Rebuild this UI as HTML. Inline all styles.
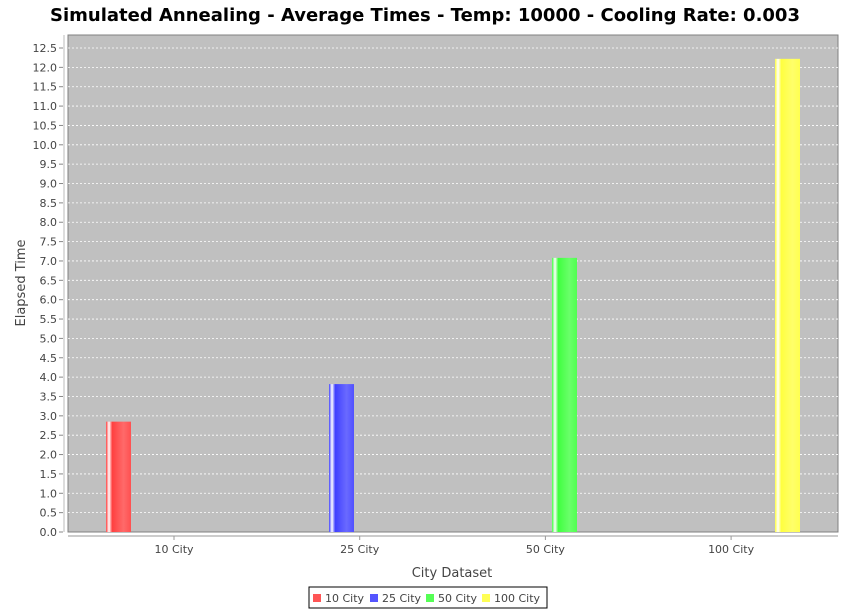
<!DOCTYPE html>
<html><head><meta charset="utf-8"><style>
body{margin:0;background:#fff}
svg text{font-family:"DejaVu Sans","Liberation Sans",sans-serif}
</style></head><body>
<svg id="chart" width="850" height="610" xmlns="http://www.w3.org/2000/svg">
<defs>
<linearGradient id="gr" x1="0" x2="1"><stop offset="0" stop-color="#ff4040"/><stop offset="0.12" stop-color="#ffffff"/><stop offset="0.25" stop-color="#ff4040"/><stop offset="0.7" stop-color="#ff6a6a"/><stop offset="1" stop-color="#ff5050"/></linearGradient>
<linearGradient id="gb" x1="0" x2="1"><stop offset="0" stop-color="#4040ff"/><stop offset="0.12" stop-color="#ffffff"/><stop offset="0.25" stop-color="#4040ff"/><stop offset="0.7" stop-color="#6a6aff"/><stop offset="1" stop-color="#5050ff"/></linearGradient>
<linearGradient id="gg" x1="0" x2="1"><stop offset="0" stop-color="#40ff40"/><stop offset="0.12" stop-color="#ffffff"/><stop offset="0.25" stop-color="#40ff40"/><stop offset="0.7" stop-color="#6aff6a"/><stop offset="1" stop-color="#50ff50"/></linearGradient>
<linearGradient id="gy" x1="0" x2="1"><stop offset="0" stop-color="#ffff40"/><stop offset="0.12" stop-color="#ffffff"/><stop offset="0.25" stop-color="#ffff40"/><stop offset="0.7" stop-color="#ffff6a"/><stop offset="1" stop-color="#ffff50"/></linearGradient>
</defs>
<text x="425" y="21" text-anchor="middle" font-size="18" font-weight="bold">Simulated Annealing - Average Times - Temp: 10000 - Cooling Rate: 0.003</text>
<rect x="68" y="35" width="770" height="497" fill="#c0c0c0" stroke="#808080"/>
<g id="grid"></g><g id="yaxis"></g><g id="bars"></g><g id="xaxis"></g>
<line x1="68" y1="536" x2="838" y2="536" stroke="#999"/>
<line x1="64" y1="35" x2="64" y2="532" stroke="#bbb"/>
<text x="452" y="577" text-anchor="middle" font-size="13" fill="#444">City Dataset</text>
<text transform="translate(25,283) rotate(-90)" text-anchor="middle" font-size="13" fill="#444">Elapsed Time</text>
<g>
<rect x="309" y="587" width="238" height="21" fill="#fff" stroke="#000"/>
<g id="legend"></g>
</g>
</svg>
<script>
const categories=["10 City","25 City","50 City","100 City"];
const values=[2.85,3.82,7.08,12.22];
const yTicks=[0,0.5,1,1.5,2,2.5,3,3.5,4,4.5,5,5.5,6,6.5,7,7.5,8,8.5,9,9.5,10,10.5,11,11.5,12,12.5];
const grads=["url(#gr)","url(#gb)","url(#gg)","url(#gy)"];
const legendColors=["#ff5555","#5555ff","#55ff55","#ffff55"];
const NS="http://www.w3.org/2000/svg";
function y(v){return 532-v*38.72;}
function catCenter(i){return 174+i*185.7;}
function el(t,a,p){const e=document.createElementNS(NS,t);for(const k in a)e.setAttribute(k,a[k]);document.getElementById(p).appendChild(e);return e;}
yTicks.forEach((t,i)=>{
 if(t>0){const g=el('line',{x1:68,x2:838,y1:y(t),y2:y(t),stroke:'#fff','stroke-dasharray':'2,2','stroke-width':0.8},'grid');
 
 }
 const tk=el('line',{x1:59,x2:63,y1:y(t),y2:y(t),stroke:'#888'},'yaxis');
 
 
 const tx=el('text',{x:57,y:y(t)+4,'text-anchor':'end','font-size':11,fill:'#444'},'yaxis');
 tx.textContent=t.toFixed(1);
 
 
});
categories.forEach((c,i)=>{
 const bx=catCenter(i)-68+i*37.3;
 const b=el('rect',{x:bx,y:y(values[i]),width:25,height:532-y(values[i]),fill:grads[i]},'bars');
 
 
 const tk=el('line',{x1:catCenter(i),x2:catCenter(i),y1:536,y2:540,stroke:'#999'},'xaxis');
 
 
 const tx=el('text',{x:catCenter(i),y:553,'text-anchor':'middle','font-size':11,fill:'#444'},'xaxis');
 tx.textContent=c;
 
 
});
const lx=[313,370,426,482];
categories.forEach((c,i)=>{
 const r=el('rect',{x:lx[i],y:594,width:8,height:8,fill:legendColors[i]},'legend');
 
 
 const t=el('text',{x:lx[i]+12,y:602,'font-size':11,fill:'#444'},'legend');
 t.textContent=c;
 
 
});
</script>
</body></html>
